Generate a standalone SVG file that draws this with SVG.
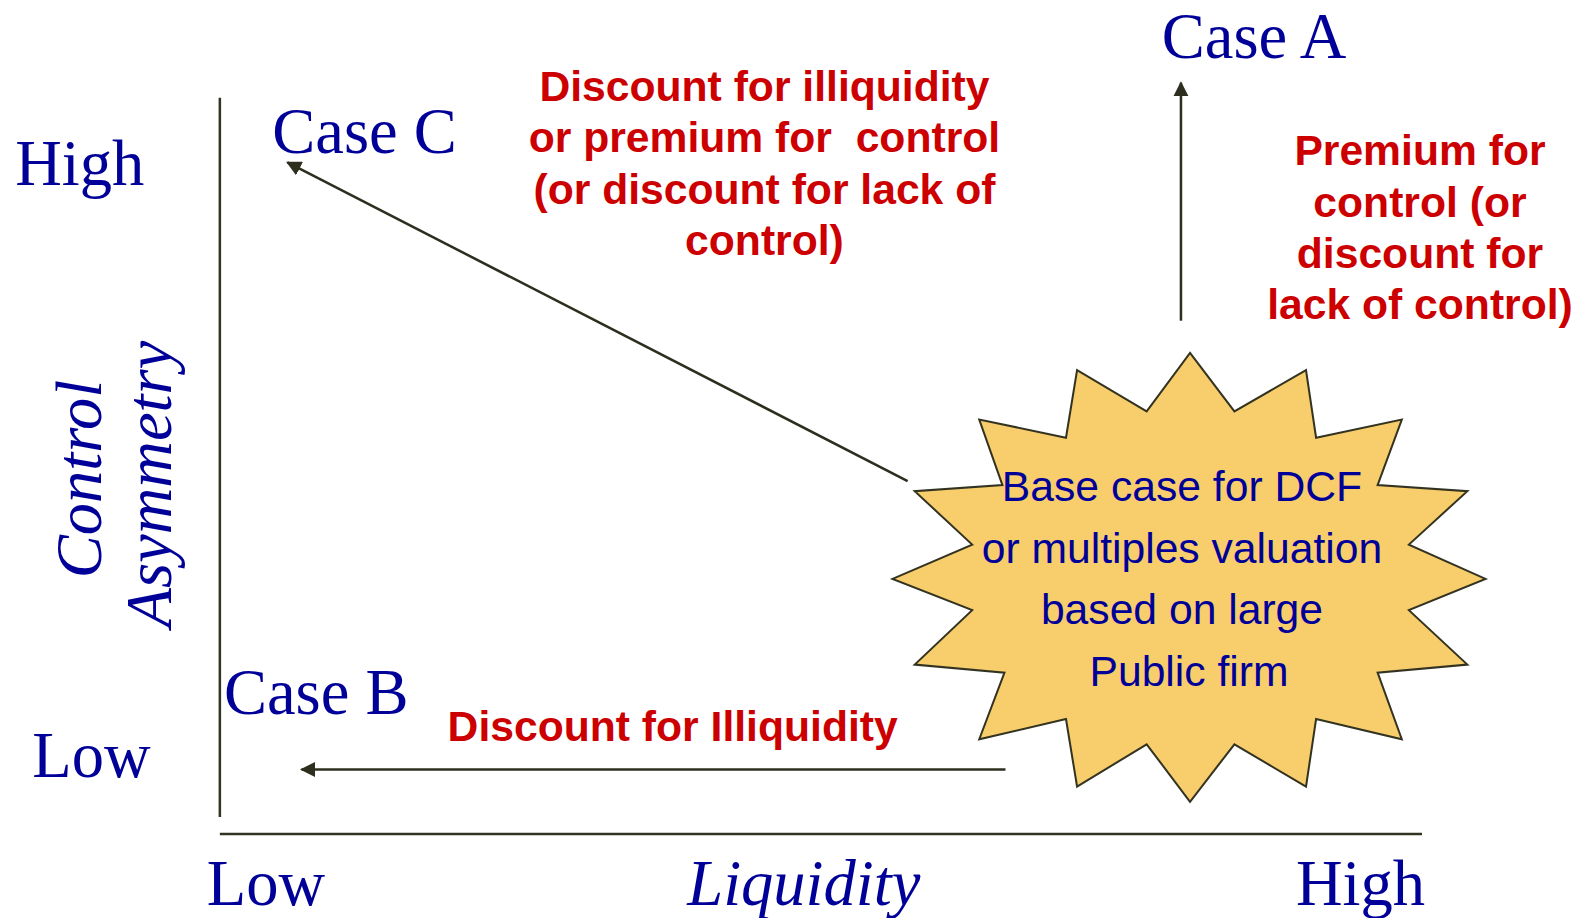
<svg xmlns="http://www.w3.org/2000/svg" width="1580" height="918" viewBox="0 0 1580 918">
<style>
.serif{font-family:"Liberation Serif","Times New Roman",serif;font-size:64px;fill:#000099}
.it{font-style:italic}
.red{font-family:"Liberation Sans",Arial,sans-serif;font-size:42.3px;font-weight:bold;fill:#CC0000;text-anchor:middle}
.blue{font-family:"Liberation Sans",Arial,sans-serif;font-size:42.3px;fill:#000099;text-anchor:middle}
.axis{stroke:#333322;stroke-width:2.5;fill:none}
.conn{stroke:#2E2E1E;stroke-width:2.5;fill:none;marker-end:url(#ah)}
</style>
<defs>
<marker id="ah" viewBox="0 0 10 10" refX="9" refY="5" markerWidth="6" markerHeight="6" markerUnits="strokeWidth" orient="auto">
<path d="M0,0 L10,5 L0,10 z" fill="#2E2E1E"/>
</marker>
</defs>
<rect width="1580" height="918" fill="#ffffff"/>
<g transform="scale(1.0085)">
<g id="axes">
<line class="axis" x1="218" y1="97" x2="218" y2="810"/>
<line class="axis" x1="218" y1="827" x2="1410" y2="827"/>
</g>
<g id="axis-labels">
<text class="serif" x="15" y="183">High</text>
<text class="serif" x="32" y="770">Low</text>
<text class="serif" x="205" y="897">Low</text>
<text class="serif it" x="797" y="897" text-anchor="middle">Liquidity</text>
<text class="serif" x="1285" y="897">High</text>
<text class="serif it" transform="translate(100,475) rotate(-90)" text-anchor="middle">Control</text>
<text class="serif it" transform="translate(170,480) rotate(-90)" text-anchor="middle">Asymmetry</text>
</g>
<g id="connectors">
<line class="conn" x1="900" y1="477" x2="285" y2="161"/>
<line class="conn" x1="997" y1="763" x2="299" y2="763"/>
<line class="conn" x1="1171" y1="318" x2="1171" y2="82"/>
</g>
<g id="base-case">
<polygon points="1180,350 1224,408 1295,367 1305,434 1390,416 1366,481 1455,487 1397,540 1473,574 1397,605 1455,659 1366,667 1390,733 1305,713 1295,780 1224,738 1180,795 1137,738 1068,780 1057,713 971,733 996,667 907,659 964,605 885,574 964,540 907,487 994,481 971,416 1057,434 1068,367 1137,408" fill="#F8CD6B" stroke="#333322" stroke-width="2"/>
<text class="blue" x="1172" y="497">Base case for DCF</text>
<text class="blue" x="1172" y="558">or multiples valuation</text>
<text class="blue" x="1172" y="619">based on large</text>
<text class="blue" x="1179" y="680">Public firm</text>
</g>
<g id="case-a">
<text class="serif" x="1152" y="57">Case A</text>
</g>
<g id="case-b">
<text class="serif" x="222" y="708">Case B</text>
</g>
<g id="case-c">
<text class="serif" x="270" y="152">Case C</text>
</g>
<g id="label-c">
<text class="red" x="758" y="100">Discount for illiquidity</text>
<text class="red" x="758" y="151" xml:space="preserve">or premium for  control</text>
<text class="red" x="758" y="202">(or discount for lack of</text>
<text class="red" x="758" y="253">control)</text>
</g>
<g id="label-a">
<text class="red" x="1408" y="164">Premium for</text>
<text class="red" x="1408" y="215">control (or</text>
<text class="red" x="1408" y="266">discount for</text>
<text class="red" x="1408" y="316">lack of control)</text>
</g>
<g id="label-b">
<text class="red" x="667" y="735">Discount for Illiquidity</text>
</g>
</g>
</svg>
